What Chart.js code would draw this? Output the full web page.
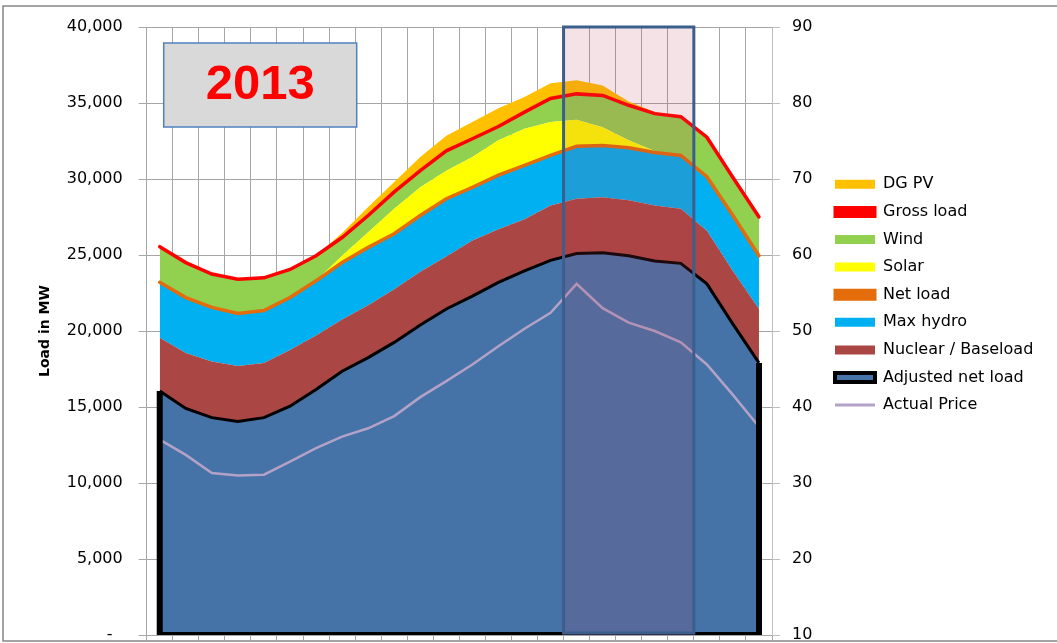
<!DOCTYPE html>
<html>
<head>
<meta charset="utf-8">
<script src="https://cdn.jsdelivr.net/npm/chart.js@4.4.1/dist/chart.umd.min.js"></script>
<style>
  html, body { margin: 0; padding: 0; background: #fff; }
</style>
</head>
<body>
<canvas id="chart" width="1057" height="643"></canvas>
<script>
// hours of the day (no labels shown on the axis)
var hours = ['1','2','3','4','5','6','7','8','9','10','11','12','13','14','15','16','17','18','19','20','21','22','23','24'];

// MW, stacked from the bottom up
var adjustedNetLoad = [16050,14900,14300,14050,14300,15050,16150,17350,18250,19250,20400,21450,22300,23200,23950,24650,25100,25150,24950,24600,24450,23100,20450,17900];
var nuclearBaseload = [3500,3650,3700,3650,3600,3700,3550,3400,3450,3500,3500,3450,3650,3500,3400,3600,3600,3650,3650,3650,3600,3500,3500,3550];
var maxHydro        = [3650,3650,3550,3450,3450,3450,3600,3750,3800,3650,3700,3800,3500,3550,3550,3300,3450,3400,3450,3500,3500,3550,3650,3500];
var solar           = [0,0,0,0,0,0,0,450,1000,1650,1850,1850,2000,2300,2400,2200,1750,1200,500,100,0,0,0,0];
var wind            = [2350,2300,2200,2250,2150,1850,1650,1200,1100,1100,1100,1300,1200,900,1100,1550,1700,2100,2300,2450,2550,2600,2500,2550];
var dgPV            = [0,0,0,0,0,0,0,300,550,650,900,1000,1100,1200,1000,1000,900,650,250,100,0,0,0,0];

// lines, MW
var netLoad   = [23200,22200,21550,21150,21350,22200,23300,24500,25500,26400,27600,28700,29450,30250,30900,31550,32150,32200,32050,31750,31550,30150,27600,24950];
var grossLoad = [25550,24500,23750,23400,23500,24050,24950,26150,27600,29150,30550,31850,32650,33450,34400,35300,35600,35500,34850,34300,34100,32750,30100,27500];

// right axis
var actualPrice = [35.7,33.7,31.3,31.0,31.1,32.8,34.6,36.1,37.2,38.8,41.3,43.4,45.6,48.0,50.3,52.4,56.2,53.0,51.1,50.0,48.5,45.6,41.6,37.4];

var loadAxis  = { min: 0, max: 40000, step: 5000 };
var priceAxis = { min: 10, max: 90, step: 10 };
var peakHours = ['17', '21'];
var yearLabel = '2013';

// order of the legend entries (by dataset index)
var legendRank = [7, 6, 5, 3, 2, 0, 4, 1, 8];

Chart.defaults.font.family = 'DejaVu Sans';
Chart.defaults.color = '#000';

function area(label, data, color, fill) {
  return {
    label: label, data: data, yAxisID: 'y', stack: 'load',
    backgroundColor: color, borderColor: color, borderWidth: 0,
    fill: fill, pointRadius: 0, tension: 0,
    legendSymbol: { style: 'rect', fill: color, stroke: color, width: 0 }
  };
}

var datasets = [
  area('Adjusted net load', adjustedNetLoad, '#4572A7', 'origin'),
  area('Nuclear / Baseload', nuclearBaseload, '#AA4643', '-1'),
  area('Max hydro', maxHydro, '#00B0F0', '-1'),
  area('Solar', solar, '#FFFF00', '-1'),
  area('Wind', wind, '#92D050', '-1'),
  area('DG PV', dgPV, '#FFC000', '-1'),
  {
    label: 'Net load', data: netLoad, yAxisID: 'y', stack: 'net', order: -1,
    borderColor: '#E46C0A', borderWidth: 3.5, borderCapStyle: 'round', fill: false, pointRadius: 0,
    legendSymbol: { style: 'rect', fill: '#E46C0A', stroke: '#E46C0A', width: 3 }
  },
  {
    label: 'Gross load', data: grossLoad, yAxisID: 'y', stack: 'gross', order: -1,
    borderColor: '#FF0000', borderWidth: 3.5, borderCapStyle: 'round', fill: false, pointRadius: 0,
    legendSymbol: { style: 'rect', fill: '#FF0000', stroke: '#FF0000', width: 3 }
  },
  {
    label: 'Actual Price', data: actualPrice, yAxisID: 'y1', stack: 'price', order: -2,
    borderColor: '#B3A2C7', borderWidth: 2.5, fill: false, pointRadius: 0,
    legendSymbol: { style: 'line', fill: '#B3A2C7', stroke: '#B3A2C7', width: 3 }
  }
];
// black outline of the bottom area
datasets[0].borderColor = '#000';
datasets[0].borderWidth = 3;
datasets[0].legendSymbol = { style: 'rect', fill: '#4572A7', stroke: '#000', width: 4 };

// white page and grey chart frame
var frame = {
  id: 'frame',
  beforeDraw: function(chart) {
    var ctx = chart.ctx;
    ctx.save();
    ctx.fillStyle = '#fff';
    ctx.fillRect(0, 0, chart.width, chart.height);
    ctx.strokeStyle = '#868686';
    ctx.lineWidth = 1.5;
    ctx.strokeRect(3, 6, chart.width + 10, chart.height - 8);
    ctx.restore();
  }
};

// sides and bottom of the adjusted net load area
var adjustedOutline = {
  id: 'adjustedOutline',
  afterDatasetsDraw: function(chart) {
    var pts = chart.getDatasetMeta(0).data;
    var a = chart.chartArea, ctx = chart.ctx;
    var base = chart.scales.y.getPixelForValue(0);
    var last = pts[pts.length - 1];
    ctx.save();
    ctx.beginPath();
    ctx.rect(a.left, a.top, a.right - a.left, a.bottom - a.top);
    ctx.clip();
    ctx.strokeStyle = '#000';
    ctx.lineWidth = 6;
    ctx.beginPath();
    ctx.moveTo(pts[0].x, pts[0].y);
    ctx.lineTo(pts[0].x, base);
    ctx.lineTo(last.x, base);
    ctx.lineTo(last.x, last.y);
    ctx.stroke();
    ctx.restore();
  }
};

// shaded evening peak
var peakBox = {
  id: 'peakBox',
  afterDatasetsDraw: function(chart) {
    var x = chart.scales.x, a = chart.chartArea, ctx = chart.ctx;
    var half = (x.getPixelForValue(1) - x.getPixelForValue(0)) / 2;
    var x0 = x.getPixelForValue(hours.indexOf(peakHours[0])) - half;
    var x1 = x.getPixelForValue(hours.indexOf(peakHours[1])) + half;
    ctx.save();
    ctx.fillStyle = 'rgba(190,60,90,0.15)';
    ctx.fillRect(x0, a.top, x1 - x0, a.bottom - a.top);
    ctx.strokeStyle = '#3B5E8C';
    ctx.lineWidth = 3;
    ctx.strokeRect(x0, a.top, x1 - x0, a.bottom - a.top - 2);
    ctx.restore();
  }
};

// year label box
var yearBox = {
  id: 'yearBox',
  afterDraw: function(chart) {
    var a = chart.chartArea, ctx = chart.ctx;
    var bx = a.left + 17, by = a.top + 16, bw = 193, bh = 84;
    ctx.save();
    ctx.fillStyle = '#D9D9D9';
    ctx.fillRect(bx, by, bw, bh);
    ctx.strokeStyle = '#4F81BD';
    ctx.lineWidth = 1.5;
    ctx.strokeRect(bx, by, bw, bh);
    ctx.fillStyle = '#FF0000';
    ctx.font = 'bold 49px "Liberation Sans"';
    ctx.textAlign = 'center';
    ctx.textBaseline = 'middle';
    ctx.fillText(yearLabel, bx + bw / 2, by + bh / 2);
    ctx.restore();
  }
};

// keep the tick label overhang from shrinking the plot
function noOverhang(s) {
  s.paddingTop = 0;
  s.paddingBottom = 0;
}

var ctx = document.getElementById('chart').getContext('2d');
window.loadChart = new Chart(ctx, {
  type: 'line',
  data: { labels: hours, datasets: datasets },
  plugins: [frame, adjustedOutline, peakBox, yearBox],
  options: {
    responsive: false,
    animation: false,
    devicePixelRatio: 1,
    events: [],
    layout: { padding: { left: 30, right: 13.7, top: 27, bottom: 0 } },
    plugins: {
      tooltip: { enabled: false },
      legend: {
        position: 'right',
        align: 'start',
        maxWidth: 260,
        title: { display: true, text: ' ', font: { size: 16 }, padding: { top: 118.5, bottom: 0 } },
        labels: {
          usePointStyle: true,
          pointStyleWidth: 40,
          boxHeight: 9,
          padding: 11.6,
          font: { size: 16 },
          color: '#000',
          sort: function(a, b) { return legendRank[a.datasetIndex] - legendRank[b.datasetIndex]; },
          generateLabels: function(chart) {
            return chart.data.datasets.map(function(ds, i) {
              var s = ds.legendSymbol;
              return {
                text: ds.label, datasetIndex: i, hidden: false,
                pointStyle: s.style, fillStyle: s.fill, strokeStyle: s.stroke,
                lineWidth: s.width, fontColor: '#000'
              };
            });
          }
        }
      }
    },
    scales: {
      x: {
        type: 'category',
        offset: true,
        grid: { offset: true, color: '#A6A6A6', tickLength: 7 },
        border: { color: '#A6A6A6' },
        ticks: { display: false },
        afterFit: function(s) { s.height = 8; }
      },
      y: {
        position: 'left',
        stacked: true,
        min: loadAxis.min, max: loadAxis.max,
        grid: { color: '#A6A6A6', tickLength: 8 },
        border: { color: '#A6A6A6' },
        ticks: {
          stepSize: loadAxis.step, padding: 16, font: { size: 16 }, color: '#000',
          callback: function(v) { return v === 0 ? '-  ' : v.toLocaleString('en-US'); }
        },
        title: { display: true, text: 'Load in MW', font: { size: 14, weight: 'bold' }, color: '#000', padding: { top: 6.6, bottom: 0 } },
        afterFit: function(s) { s.width = 116.7; noOverhang(s); }
      },
      y1: {
        position: 'right',
        min: priceAxis.min, max: priceAxis.max,
        grid: { drawOnChartArea: false, color: '#BFBFBF', tickLength: 8 },
        border: { color: '#BFBFBF' },
        ticks: { stepSize: priceAxis.step, padding: 12, font: { size: 16 }, color: '#000' },
        afterFit: function(s) { s.width = 51.4; noOverhang(s); }
      }
    }
  }
});
</script>
</body>
</html>
